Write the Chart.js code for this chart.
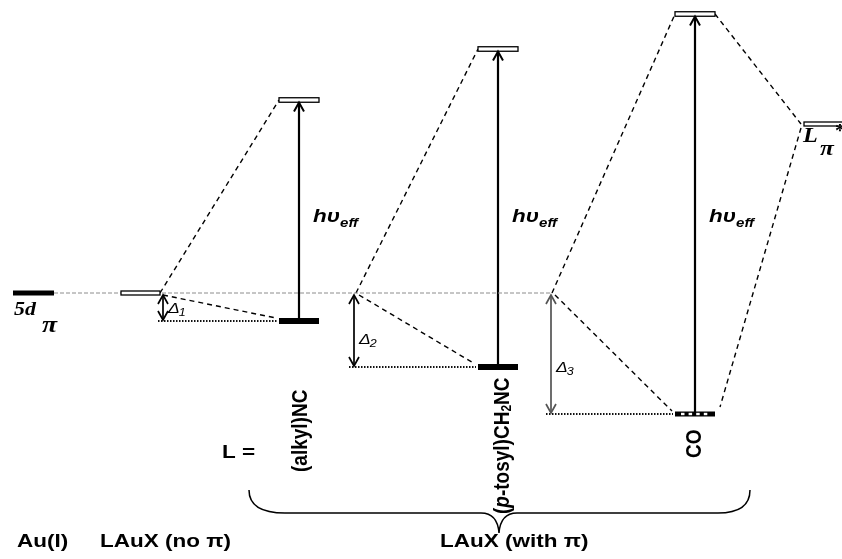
<!DOCTYPE html>
<html>
<head>
<meta charset="utf-8">
<script src="https://cdn.jsdelivr.net/npm/chart.js@4.4.1/dist/chart.umd.min.js"></script>
<style>
html, body { margin: 0; padding: 0; background: #fff; }
#wrap { width: 842px; height: 559px; position: relative; }
</style>
</head>
<body>
<div id="wrap"><canvas id="diagram"></canvas></div>
<script>
// energies relative to the Au 5d(pi) level, arbitrary units (up = higher)
const ligands = ['(alkyl)NC', '(p-tosyl)CH2NC', 'CO'];
const dPiEnergy = [-28, -74, -121];      // 5d(pi) of LAuX after back-bonding
const piStarEnergy = [193, 244, 279];    // L(pi*) of LAuX
const auDpiEnergy = 0;
const noPiEnergy = 0;
const freePiStarEnergy = 169;
const deltaNames = ['1', '2', '3'];
const bottomLabels = ['Au(I)', 'LAuX (no π)', 'LAuX (with π)'];

// layout along the (hidden) x axis
const ligandX = [299, 498, 695];
const barHalf = 20;
const vertexX = [160, 356, 552];
const deltaX = [163, 354, 551];

const BOLD = "'Liberation Sans', Arial, sans-serif";
const SERIF = "'Liberation Serif', 'Times New Roman', serif";
const STRETCH = 1.25; // the figure's lettering is drawn wide

function seg(p, q, color, width, dash) {
  return {
    data: [p, q],
    showLine: true,
    borderColor: color,
    borderWidth: width,
    borderDash: dash || [],
    borderCapStyle: 'butt',
    pointRadius: 0,
    fill: false,
    clip: false
  };
}

const datasets = [];
// Au 5d(pi) reference line
datasets.push(seg({x: 54, y: auDpiEnergy}, {x: vertexX[2], y: auDpiEnergy}, '#8c8c8c', 1, [4, 2]));

ligands.forEach((name, i) => {
  const left = ligandX[i] - barHalf;
  // correlation lines
  datasets.push(seg({x: vertexX[i], y: noPiEnergy}, {x: left, y: piStarEnergy[i]}, '#000', 1.4, [5, 4]));
  datasets.push(seg({x: vertexX[i] + 3, y: noPiEnergy - 2}, {x: left - 3, y: dPiEnergy[i] + 3}, '#000', 1.4, [5, 4]));
  // stabilisation guide
  datasets.push(seg({x: deltaX[i] - 5, y: dPiEnergy[i]}, {x: left - 2, y: dPiEnergy[i]}, '#111', 2, [1.5, 1.5]));
  // delta arrow shaft
  datasets.push(seg({x: deltaX[i], y: noPiEnergy - 2}, {x: deltaX[i], y: dPiEnergy[i] + 1}, i === 2 ? '#555' : '#000', 1.7));
  // h nu arrow shaft
  datasets.push(seg({x: ligandX[i], y: dPiEnergy[i]}, {x: ligandX[i], y: piStarEnergy[i] - 3}, '#000', 2.2));
});
// CO levels to free ligand pi*
datasets.push(seg({x: ligandX[2] + barHalf, y: piStarEnergy[2]}, {x: 801, y: freePiStarEnergy}, '#000', 1.4, [5, 4]));
datasets.push(seg({x: 801, y: freePiStarEnergy - 4}, {x: ligandX[2] + barHalf + 5, y: dPiEnergy[2] + 7}, '#000', 1.4, [5, 4]));

// text drawn with the wide lettering of the figure
function txt(ctx, s, x, y, font, k) {
  k = k || STRETCH;
  ctx.save();
  ctx.font = font;
  ctx.textAlign = 'left';
  ctx.translate(x, y);
  ctx.scale(k, 1);
  ctx.fillText(s, 0, 0);
  const w = ctx.measureText(s).width * k;
  ctx.restore();
  return w;
}

const diagramPlugin = {
  id: 'diagram',
  afterDatasetsDraw(chart) {
    const ctx = chart.ctx;
    const sx = v => chart.scales.x.getPixelForValue(v);
    const sy = v => chart.scales.y.getPixelForValue(v);
    ctx.save();
    ctx.fillStyle = '#000';
    ctx.strokeStyle = '#000';
    ctx.textBaseline = 'alphabetic';

    function solidBar(x1, x2, e, h) {
      ctx.fillStyle = '#000';
      ctx.fillRect(sx(x1), sy(e) - h / 2, sx(x2) - sx(x1), h);
    }
    function openBar(x1, x2, e, h) {
      ctx.fillStyle = '#fff';
      ctx.fillRect(sx(x1), sy(e) - h / 2, sx(x2) - sx(x1), h);
      ctx.lineWidth = 1.3;
      ctx.strokeStyle = '#000';
      ctx.strokeRect(sx(x1), sy(e) - h / 2, sx(x2) - sx(x1), h);
    }
    function head(x, e, up, w) {
      const X = sx(x), Y = sy(e), d = up ? 1 : -1;
      ctx.lineWidth = w;
      ctx.beginPath();
      ctx.moveTo(X - 5, Y + d * 9);
      ctx.lineTo(X, Y);
      ctx.lineTo(X + 5, Y + d * 9);
      ctx.stroke();
    }

    // levels
    solidBar(13, 54, auDpiEnergy, 5);
    openBar(121, 160, noPiEnergy, 4);
    openBar(804, 852, freePiStarEnergy, 4);
    ligands.forEach((n, i) => {
      const l = ligandX[i] - barHalf, r = ligandX[i] + barHalf;
      openBar(l, r, piStarEnergy[i], 4.5);
      solidBar(l, r, dPiEnergy[i], i === 2 ? 5 : 6);
      if (i === 2) {
        ctx.fillStyle = '#fff';
        for (let k = 0; k < 4; k++) ctx.fillRect(sx(l) + 6 + k * 7.6, sy(dPiEnergy[i]) - 1.2, 3.5, 2.4);
      }
    });

    // arrow heads
    ligands.forEach((n, i) => {
      ctx.strokeStyle = '#000';
      head(ligandX[i], piStarEnergy[i] - 2.5, true, 2);
      ctx.strokeStyle = i === 2 ? '#555' : '#000';
      head(deltaX[i], noPiEnergy - 2, true, 1.7);
      head(deltaX[i], dPiEnergy[i] + 1, false, 1.7);
    });

    ctx.fillStyle = '#000';
    // 5d pi
    txt(ctx, '5d', 14, 315, "bold italic 19px " + SERIF, 1.15);
    txt(ctx, 'π', 42, 332, "bold italic 24px " + SERIF, 1.15);
    // L pi*
    txt(ctx, 'L', 803, 142, "bold italic 22px " + SERIF, 1.1);
    txt(ctx, 'π', 820, 155, "bold italic 22px " + SERIF, 1.15);
    txt(ctx, '*', 835, 137, "bold 18px " + SERIF, 1.1);

    // h nu eff and deltas
    ligands.forEach((n, i) => {
      const x = sx(ligandX[i]) + 14;
      const w = txt(ctx, 'hυ', x, 222, "bold italic 18px " + BOLD);
      txt(ctx, 'eff', x + w, 227, "bold italic 12px " + BOLD);
      const dx = sx(deltaX[i]) + 5;
      const dy = [313, 344, 372][i];
      const dw = txt(ctx, 'Δ', dx, dy, "italic 14px " + BOLD);
      txt(ctx, deltaNames[i], dx + dw - 1, dy + 3, "italic 10px " + BOLD);
    });

    // ligand names, rotated (lettering thickened across the line)
    txt(ctx, 'L =', 222, 458, "bold 18px " + BOLD);
    function vtext(parts, cx, bottom) {
      ctx.save();
      ctx.translate(cx, bottom);
      ctx.rotate(-Math.PI / 2);
      ctx.scale(1, 1.15);
      ctx.textBaseline = 'middle';
      let x = 0;
      parts.forEach(p => {
        ctx.font = p[1];
        ctx.fillText(p[0], x, p[2] || 0);
        x += ctx.measureText(p[0]).width;
      });
      ctx.restore();
    }
    const F = "bold 19px " + BOLD;
    vtext([['(alkyl)NC', F]], sx(ligandX[0]) + 2, 472);
    vtext([['(', F], ['p', "bold italic 19px " + BOLD], ['-tosyl)CH', F], ['2', "bold 12px " + BOLD, 4], ['NC', F]], sx(ligandX[1]) + 5, 514);
    vtext([['CO', F]], sx(ligandX[2]), 458);

    // brace under the pi-ligands
    const bl = sx(249), bm = sx(499), br = sx(750);
    ctx.strokeStyle = '#000';
    ctx.lineWidth = 1.5;
    ctx.beginPath();
    ctx.moveTo(bl, 490);
    ctx.bezierCurveTo(bl, 505, bl + 12, 513, bl + 36, 513);
    ctx.lineTo(bm - 18, 513);
    ctx.bezierCurveTo(bm - 7, 513, bm - 1, 520, bm, 533);
    ctx.bezierCurveTo(bm + 1, 520, bm + 7, 513, bm + 18, 513);
    ctx.lineTo(br - 32, 513);
    ctx.bezierCurveTo(br - 10, 513, br, 505, br, 490);
    ctx.stroke();

    // bottom captions
    const BF = "bold 18px " + BOLD;
    txt(ctx, bottomLabels[0], 17, 547, BF);
    txt(ctx, bottomLabels[1], 100, 547, BF);
    txt(ctx, bottomLabels[2], 440, 547, BF);
    ctx.restore();
  }
};

new Chart(document.getElementById('diagram'), {
  type: 'scatter',
  data: { datasets: datasets },
  options: {
    responsive: true,
    maintainAspectRatio: false,
    animation: false,
    events: [],
    layout: { padding: 0 },
    plugins: { legend: { display: false }, tooltip: { enabled: false } },
    scales: {
      x: { type: 'linear', min: 0, max: 842, display: false },
      y: { type: 'linear', min: -266, max: 293, display: false }
    }
  },
  plugins: [diagramPlugin]
});
</script>
</body>
</html>
